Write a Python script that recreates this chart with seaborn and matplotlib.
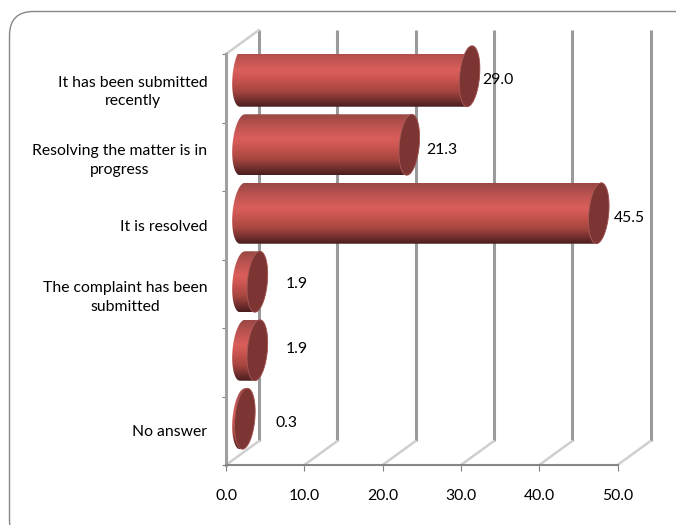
import numpy as np
import pandas as pd
import seaborn as sns
import matplotlib.pyplot as plt
from matplotlib.colors import LinearSegmentedColormap
from matplotlib.patches import FancyBboxPatch, Polygon
from matplotlib.transforms import IdentityTransform

categories = ['It has been submitted\nrecently', 'Resolving the matter is in\nprogress',
              'It is resolved', 'The complaint has been\nsubmitted', ' ', 'No answer']
values = [29.0, 21.3, 45.5, 1.9, 1.9, 0.3]
x_ticks = [0, 10, 20, 30, 40, 50]

sns.set_theme(style='white')
plt.rcParams['font.family'] = ['Lato', 'DejaVu Sans']

W, H = 676, 525
fig = plt.figure(figsize=(W / 100, H / 100), dpi=100)
ax = fig.add_axes([226 / W, (H - 465) / H, 391.5 / W, 411 / H])

df = pd.DataFrame({'status': categories, 'percent': values})
sns.barplot(data=df, y='status', x='percent', order=categories, width=0.89, ax=ax)
ax.set_xlim(0, 50)
ax.set_ylim(5.5, -0.5)

# pixel sizes of the fake 3d, turned into data units
px_x = 50 / 391.5
px_y = 6 / 411
back_dx, back_dy = 33 * px_x, -24 * px_y
bar_dx, bar_dy = 16.5 * px_x, -12 * px_y
cap_a, cap_s = 10 * px_x, 2.5 * px_x

# back wall
for t in x_ticks:
    ax.plot([t + back_dx] * 2, [5.5 + back_dy, -0.5 + back_dy], color='#9a9a9a', lw=2.2,
            solid_capstyle='butt', clip_on=False, zorder=1)
    ax.plot([t, t + back_dx], [5.5, 5.5 + back_dy], color='#cfcfcf', lw=1.8,
            solid_capstyle='round', clip_on=False, zorder=1)
ax.plot([0, back_dx], [-0.5, -0.5 + back_dy], color='#cfcfcf', lw=1.8, clip_on=False, zorder=1)

shade = LinearSegmentedColormap.from_list('cyl', [
    (0.0, '#9a4845'), (0.2, '#bd5350'), (0.4, '#da5f5c'), (0.55, '#c9544f'),
    (0.75, '#a5453f'), (0.9, '#6e2e2d'), (1.0, '#4a1e1e')])
grad = shade(np.linspace(0, 1, 128))[:, None, :3]


def cap_pts(cx, cy, b, t):
    return np.c_[cx + cap_a * np.cos(t) - cap_s * np.sin(t), cy + b * np.sin(t)]


# cylinders are built on the bars seaborn placed
for bar in list(ax.patches):
    b = bar.get_height() / 2
    cy = bar.get_y() + b + bar_dy
    x0 = bar.get_x() + bar_dx
    x1 = x0 + bar.get_width()
    bar.set_visible(False)
    left = cap_pts(x0, cy, b, np.linspace(np.pi / 2, 3 * np.pi / 2, 60))
    right = cap_pts(x1, cy, b, np.linspace(-np.pi / 2, np.pi / 2, 60))
    outline = Polygon(np.r_[left, right], closed=True, transform=ax.transData)
    im = ax.imshow(grad, aspect='auto', interpolation='bilinear', zorder=3,
                   extent=(x0 - cap_a - cap_s, x1 + cap_a + cap_s, cy + b, cy - b))
    im.set_clip_path(outline)
    cap = Polygon(cap_pts(x1, cy, b, np.linspace(0, 2 * np.pi, 120)), closed=True,
                  facecolor='#7c3533', edgecolor='#a85a58', lw=0.6, zorder=4, clip_on=False)
    ax.add_patch(cap)

ax.set_xlim(0, 50)
ax.set_ylim(5.5, -0.5)

# value labels sit by hand, as the chart has them
label_dx = [29, 33, 32, 45, 45, 47]
label_dy = [8, 7, 7, 10, 13, 8]
for i, v in enumerate(values):
    ax.annotate(f'{v:.1f}', xy=(v, i), xytext=(label_dx[i], label_dy[i]), textcoords='offset pixels',
                ha='left', va='center', fontsize=11.3, color='black', zorder=6, annotation_clip=False)

ax.set_xticks(x_ticks)
ax.set_xticklabels([f'{t:.1f}' for t in x_ticks], fontsize=11.3, color='black')
ax.set_yticks(range(len(categories)))
ax.set_yticklabels(categories, fontsize=11.3, color='black', multialignment='center', linespacing=1.4)
ax.set_yticks(np.arange(-0.5, 6), minor=True)
ax.tick_params(axis='y', which='major', length=0, pad=13.5)
ax.tick_params(axis='y', which='minor', left=True, length=3, width=0.8, color='#808080')
ax.tick_params(axis='x', bottom=True, length=4.5, width=0.8, color='#808080', pad=12.5)
ax.set_xlabel('')
ax.set_ylabel('')

sns.despine(ax=ax)
ax.patch.set_visible(False)
ax.spines['left'].set_color('#a0a0a0')
ax.spines['left'].set_linewidth(2.2)
ax.spines['bottom'].set_color('#868686')
ax.spines['bottom'].set_linewidth(1.5)

# rounded frame runs off the right and bottom of the picture
frame = FancyBboxPatch((9.5, H - 544), 690, 532.5, boxstyle='round,pad=0,rounding_size=24',
                       transform=IdentityTransform(), facecolor='none', edgecolor='#868686',
                       lw=1.0, zorder=-1)
fig.add_artist(frame)

fig.savefig('out.png', dpi=100)
